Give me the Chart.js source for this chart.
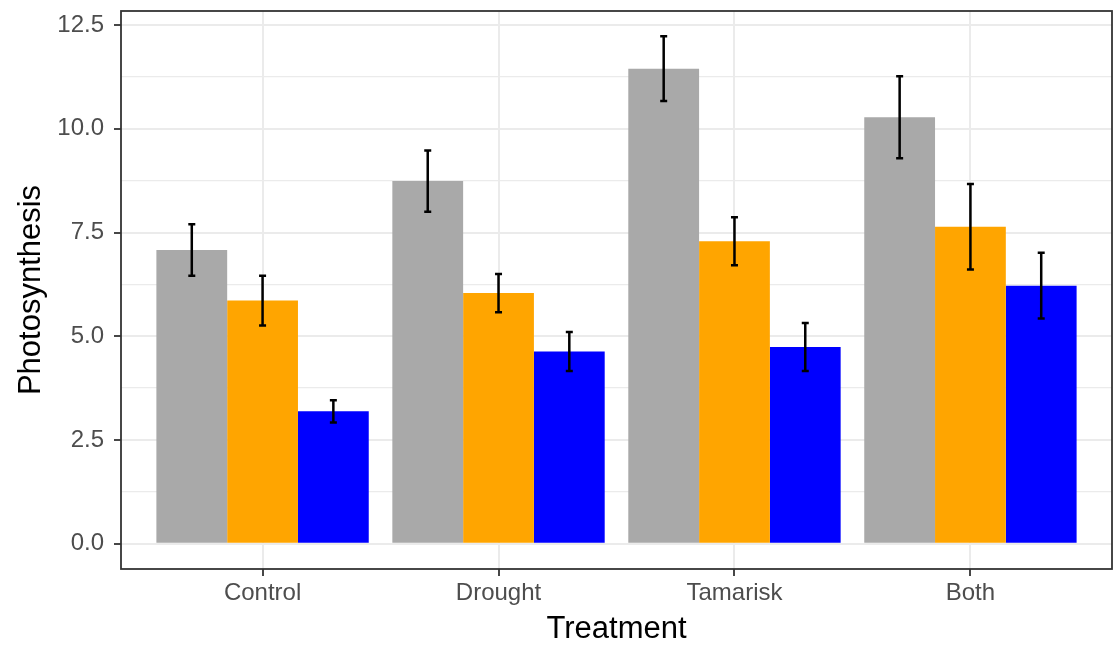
<!DOCTYPE html>
<html>
<head>
<meta charset="utf-8">
<script src="https://cdn.jsdelivr.net/npm/chart.js@4/dist/chart.umd.min.js"></script>
<style>
  html, body { margin: 0; padding: 0; background: #fff; }
  #wrap { width: 1115px; height: 648px; }
</style>
</head>
<body>
<div id="wrap"><canvas id="chart"></canvas></div>
<script>
// data
const treatments = ['Control', 'Drought', 'Tamarisk', 'Both'];
const seriesNames = ['Series A', 'Series B', 'Series C'];
const greyMean = [7.08, 8.74, 11.45, 10.28];
const greySe = [0.62, 0.74, 0.78, 0.99];
const orangeMean = [5.86, 6.04, 7.29, 7.64];
const orangeSe = [0.60, 0.46, 0.58, 1.03];
const blueMean = [3.19, 4.63, 4.74, 6.22];
const blueSe = [0.27, 0.47, 0.58, 0.79];
const yMajorTicks = [0, 2.5, 5, 7.5, 10, 12.5];
const yMinorTicks = [1.25, 3.75, 6.25, 8.75, 11.25];

const FONT = "'Liberation Sans', Arial, sans-serif";
const means = [greyMean, orangeMean, blueMean];
const ses = [greySe, orangeSe, blueSe];
const colors = ['#A9A9A9', '#FFA500', '#0000FF'];

const isMajor = v => yMajorTicks.some(m => Math.abs(m - v) < 1e-6);

// error bars drawn on top of the bars, through the chart's own scales
const errorBars = {
    id: 'errorBars',
    afterDatasetsDraw(chart) {
        const ctx = chart.ctx;
        const y = chart.scales.y;
        ctx.save();
        ctx.strokeStyle = '#000';
        ctx.lineWidth = 2.5;
        means.forEach((m, i) => {
            const meta = chart.getDatasetMeta(i);
            meta.data.forEach((bar, j) => {
                const hi = y.getPixelForValue(m[j] + ses[i][j]);
                const lo = y.getPixelForValue(m[j] - ses[i][j]);
                const x = bar.x;
                ctx.beginPath();
                ctx.moveTo(x, hi); ctx.lineTo(x, lo);
                ctx.moveTo(x - 3.5, hi); ctx.lineTo(x + 3.5, hi);
                ctx.moveTo(x - 3.5, lo); ctx.lineTo(x + 3.5, lo);
                ctx.stroke();
            });
        });
        ctx.restore();
    }
};

// panel border like theme_bw
const panelBorder = {
    id: 'panelBorder',
    afterDraw(chart) {
        const a = chart.chartArea;
        const ctx = chart.ctx;
        ctx.save();
        ctx.strokeStyle = '#333333';
        ctx.lineWidth = 1.8;
        ctx.strokeRect(a.left, a.top, a.right - a.left, a.bottom - a.top);
        ctx.restore();
    }
};

new Chart(document.getElementById('chart'), {
    type: 'bar',
    data: {
        datasets: means.map((m, i) => ({
            label: seriesNames[i],
            data: m.map((v, j) => ({ x: j, y: v })),
            backgroundColor: colors[i],
            borderWidth: 0,
            categoryPercentage: 0.9,
            barPercentage: 1.0
        }))
    },
    options: {
        responsive: true,
        maintainAspectRatio: false,
        animation: false,
        layout: { padding: { top: 11, right: 3, left: 0, bottom: 0 } },
        plugins: { legend: { display: false }, tooltip: { enabled: false } },
        scales: {
            x: {
                type: 'linear',
                min: -0.6,
                max: 3.6,
                offset: false,
                afterBuildTicks: s => { s.ticks = treatments.map((t, i) => ({ value: i })); },
                afterFit: s => { s.height = 79; s.paddingLeft = 0; s.paddingRight = 0; },
                ticks: {
                    callback: v => treatments[v],
                    font: { family: FONT, size: 24 },
                    color: '#4D4D4D',
                    padding: 3,
                    maxRotation: 0
                },
                grid: { offset: false, color: '#EBEBEB', lineWidth: 2, tickLength: 7, tickColor: '#333333', tickWidth: 1.8 },
                border: { display: false },
                title: {
                    display: true,
                    text: 'Treatment',
                    font: { family: FONT, size: 31 },
                    color: '#000',
                    padding: { top: 2, bottom: 0 }
                }
            },
            y: {
                min: -0.61,
                max: 12.84,
                afterBuildTicks: s => {
                    s.ticks = yMajorTicks.concat(yMinorTicks).sort((a, b) => a - b).map(v => ({ value: v }));
                },
                afterFit: s => { s.width = 121; s.paddingTop = 0; s.paddingBottom = 0; },
                ticks: {
                    callback: v => isMajor(v) ? v.toFixed(1) : '',
                    font: { family: FONT, size: 24 },
                    color: '#4D4D4D',
                    padding: 10
                },
                grid: {
                    color: '#EBEBEB',
                    lineWidth: c => isMajor(c.tick.value) ? 2 : 1.3,
                    tickLength: 7,
                    tickColor: c => isMajor(c.tick.value) ? '#333333' : 'rgba(0,0,0,0)',
                    tickWidth: 1.8
                },
                border: { display: false },
                title: {
                    display: true,
                    text: 'Photosynthesis',
                    font: { family: FONT, size: 31 },
                    color: '#000',
                    padding: { top: 13, bottom: 0 }
                }
            }
        }
    },
    plugins: [errorBars, panelBorder]
});
</script>
</body>
</html>
